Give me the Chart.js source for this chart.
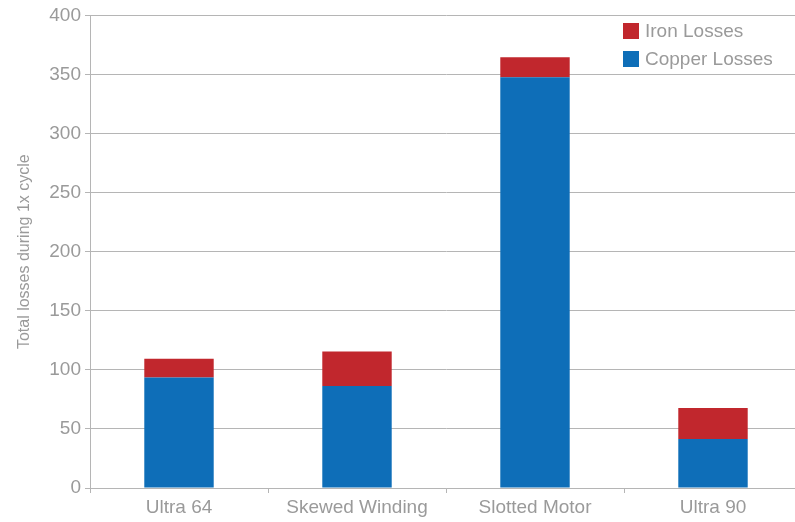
<!DOCTYPE html>
<html>
<head>
<meta charset="utf-8">
<script src="https://cdn.jsdelivr.net/npm/chart.js@4"></script>
<style>
  html, body { margin: 0; padding: 0; background: #fff; overflow: hidden; width: 795px; height: 522px; }
  #wrap { position: relative; width: 802px; height: 522px; }
  #legend { position: absolute; left: 623px; top: 17px; font-family: "Liberation Sans", Arial, sans-serif; font-size: 19px; color: #9a9a9a; }
  .item { display: flex; align-items: center; height: 28px; }
  .sw { width: 16px; height: 16px; margin-right: 6px; }
</style>
</head>
<body>
<div id="wrap">
  <canvas id="c" width="802" height="522"></canvas>
  <div id="legend"></div>
</div>
<script>
const categories = ['Ultra 64', 'Skewed Winding', 'Slotted Motor', 'Ultra 90'];
const copperLosses = [93.6, 86.3, 347.6, 41.4];
const ironLosses = [15.7, 29.2, 16.9, 26.4];
const yTicks = [0, 50, 100, 150, 200, 250, 300, 350, 400];
const seriesNames = ['Copper Losses', 'Iron Losses'];
const seriesColors = ['#0e6eb8', '#c1272d'];
const yTitle = 'Total losses during 1x cycle';

const textColor = '#9a9a9a';
const gridColor = '#b5b5b5';
const fontFamily = '"Liberation Sans", Arial, sans-serif';

const chart = new Chart(document.getElementById('c'), {
  type: 'bar',
  data: {
    labels: categories,
    datasets: [
      { label: seriesNames[0], data: copperLosses, backgroundColor: seriesColors[0], borderWidth: 0 },
      { label: seriesNames[1], data: ironLosses, backgroundColor: seriesColors[1], borderWidth: 0 }
    ]
  },
  options: {
    responsive: false,
    animation: false,
    devicePixelRatio: 1,
    layout: { padding: { top: 15, right: 0, bottom: 0, left: 0 } },
    plugins: { legend: { display: false }, tooltip: { enabled: false } },
    datasets: { bar: { categoryPercentage: 1.0, barPercentage: 0.39 } },
    scales: {
      x: {
        stacked: true,
        grid: { drawOnChartArea: false, drawTicks: true, tickLength: 5, color: gridColor, offset: true },
        border: { color: gridColor, width: 1 },
        ticks: { color: textColor, font: { family: fontFamily, size: 19 }, padding: 3, maxRotation: 0 },
        afterFit: (s) => { s.height = 34; }
      },
      y: {
        stacked: true,
        min: 0,
        max: 400,
        afterBuildTicks: (s) => { s.ticks = yTicks.map(v => ({ value: v })); },
        grid: { color: gridColor, tickLength: 5 },
        border: { color: gridColor, width: 1 },
        ticks: { color: textColor, font: { family: fontFamily, size: 19 }, padding: 4 },
        title: { display: true, text: yTitle, color: textColor, font: { family: fontFamily, size: 16 }, padding: { top: 15, bottom: 0 } },
        afterFit: (s) => { s.width = 90; }
      }
    }
  }
});

// HTML legend built from series (Iron listed first, as in the reference)
const legend = document.getElementById('legend');
[1, 0].forEach(i => {
  const d = document.createElement('div');
  d.className = 'item';
  d.innerHTML = '<span class="sw" style="background:' + seriesColors[i] + '"></span><span>' + seriesNames[i] + '</span>';
  legend.appendChild(d);
});
</script>
</body>
</html>
